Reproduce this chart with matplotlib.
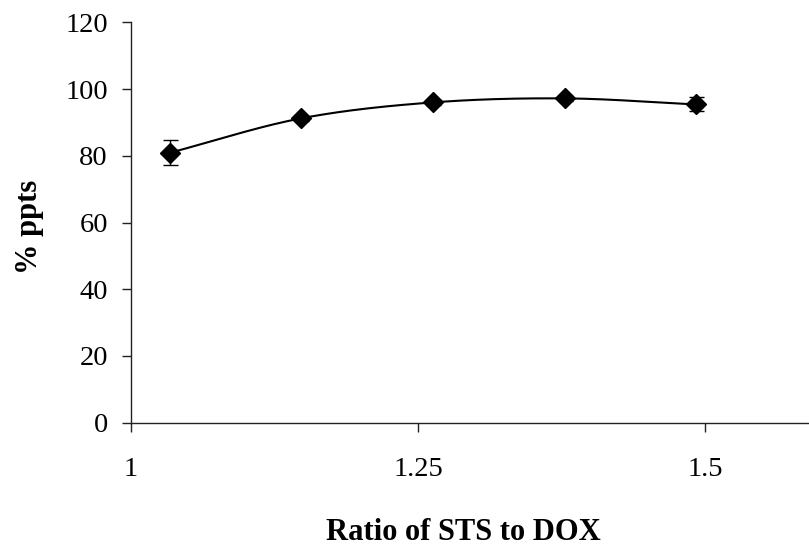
import numpy as np
import matplotlib
matplotlib.use("Agg")
import matplotlib.pyplot as plt

# Precipitation yield versus STS:DOX ratio
ratio = [1.034, 1.148, 1.263, 1.378, 1.492]
ppts = [80.9, 91.2, 96.0, 97.2, 95.4]
err = [3.8, 0.8, 0.8, 0.8, 2.1]

x_ticks = [1.0, 1.25, 1.5]
x_tick_labels = ["1", "1.25", "1.5"]
y_ticks = [0, 20, 40, 60, 80, 100, 120]

plt.rcParams["font.family"] = ["Liberation Serif", "DejaVu Serif"]


def smooth_curve(xs, ys, n=40):
    """Catmull-Rom style smoothed path through the given points."""
    xs = np.asarray(xs, float)
    ys = np.asarray(ys, float)
    px = np.concatenate([[2 * xs[0] - xs[1]], xs, [2 * xs[-1] - xs[-2]]])
    py = np.concatenate([[2 * ys[0] - ys[1]], ys, [2 * ys[-1] - ys[-2]]])
    out_x, out_y = [], []
    t = np.linspace(0, 1, n)
    for i in range(1, len(px) - 2):
        p0x, p1x, p2x, p3x = px[i - 1:i + 3]
        p0y, p1y, p2y, p3y = py[i - 1:i + 3]
        cx1, cy1 = p1x + (p2x - p0x) / 6, p1y + (p2y - p0y) / 6
        cx2, cy2 = p2x - (p3x - p1x) / 6, p2y - (p3y - p1y) / 6
        bx = ((1 - t) ** 3 * p1x + 3 * (1 - t) ** 2 * t * cx1
              + 3 * (1 - t) * t ** 2 * cx2 + t ** 3 * p2x)
        by = ((1 - t) ** 3 * p1y + 3 * (1 - t) ** 2 * t * cy1
              + 3 * (1 - t) * t ** 2 * cy2 + t ** 3 * p2y)
        out_x.extend(bx)
        out_y.extend(by)
    return np.array(out_x), np.array(out_y)


fig = plt.figure(figsize=(8.09, 5.54), dpi=100)
ax = fig.add_axes([0.1616, 0.237, 0.852, 0.7227])

sx, sy = smooth_curve(ratio, ppts)
ax.plot(sx, sy, color="black", lw=1.5, zorder=2)
ax.errorbar(ratio, ppts, yerr=err, fmt="none", ecolor="black",
            elinewidth=1.0, capsize=5.4, capthick=1.0, zorder=3)
ax.plot(ratio, ppts, linestyle="none", marker="D", markersize=10,
        color="black", zorder=4)

ax.set_xlim(1.0, 1.6)
ax.set_ylim(0, 120)
ax.set_xticks(x_ticks)
ax.set_xticklabels(x_tick_labels)
ax.set_yticks(y_ticks)

for side in ("top", "right"):
    ax.spines[side].set_visible(False)
for side in ("left", "bottom"):
    ax.spines[side].set_linewidth(1.0)
    ax.spines[side].set_color("#222222")

ax.tick_params(axis="both", direction="out", length=6.5, width=1.0,
               color="#222222", labelsize=20.5)
ax.tick_params(axis="x", pad=18)
ax.tick_params(axis="y", pad=10)

fig.text(0.573, 0.038, "Ratio of STS to DOX", ha="center", va="center",
         fontsize=22, fontweight="bold")
fig.text(0.036, 0.59, "% ppts", ha="center", va="center", rotation=90,
         fontsize=22, fontweight="bold")

fig.savefig("out.png", dpi=100)
